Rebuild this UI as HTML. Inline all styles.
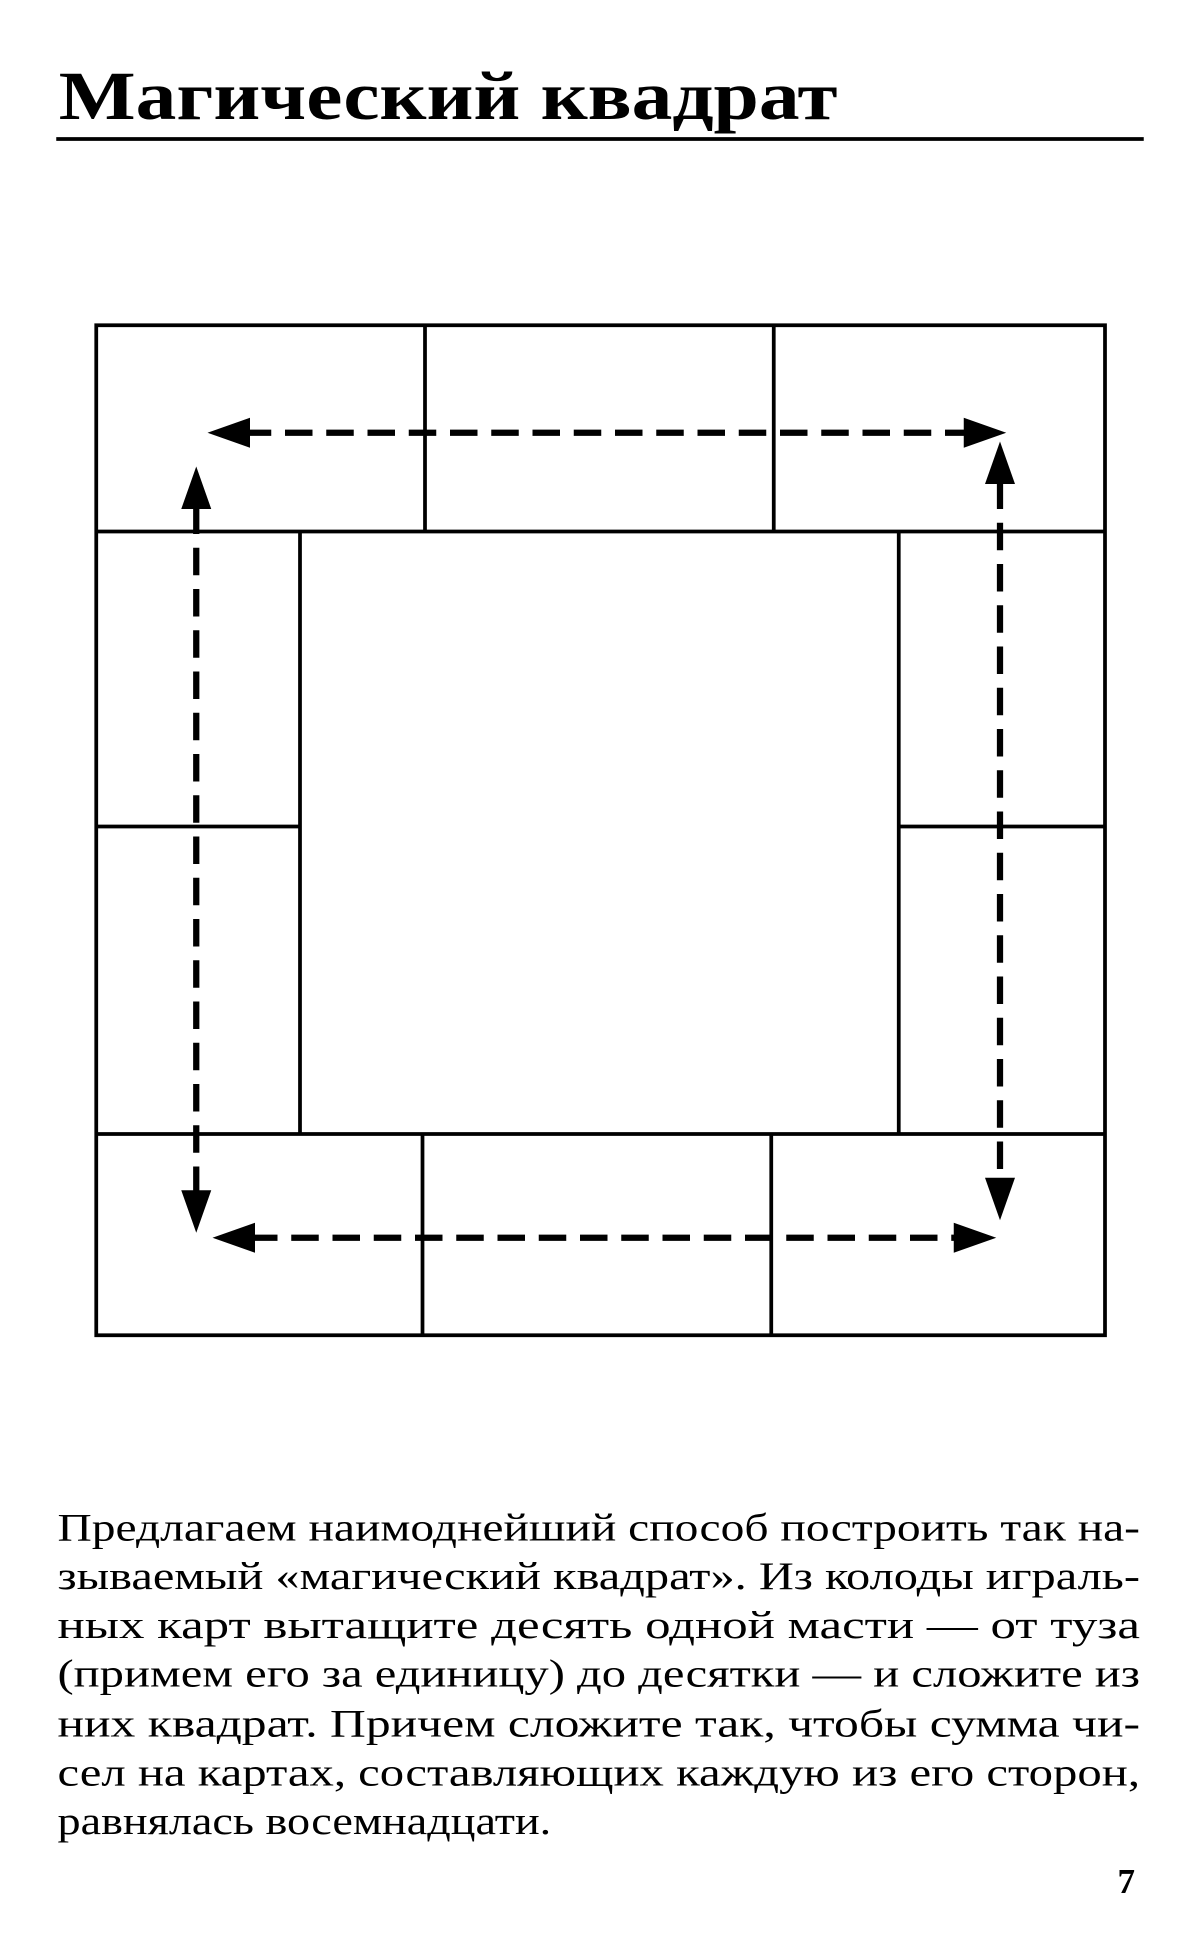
<!DOCTYPE html>
<html><head><meta charset="utf-8"><style>
html,body{margin:0;padding:0;background:#fff;}
svg{display:block;}
text{font-family:"Liberation Serif","DejaVu Serif",serif;fill:#000;}
</style></head><body>
<svg width="1200" height="1958" viewBox="0 0 960 1566" xmlns="http://www.w3.org/2000/svg">
<text x="47" y="95" font-size="55" font-weight="bold" textLength="623" lengthAdjust="spacingAndGlyphs">Магический квадрат</text>
<line x1="45" y1="111" x2="915" y2="111" stroke="#000" stroke-width="3"/>
<g stroke="#000" stroke-width="3" fill="none">
<rect x="77" y="260" width="807" height="808"/>
<line x1="77" y1="425" x2="884" y2="425"/>
<line x1="77" y1="907" x2="884" y2="907"/>
<line x1="340" y1="260" x2="340" y2="425"/>
<line x1="619" y1="260" x2="619" y2="425"/>
<line x1="338" y1="907" x2="338" y2="1068"/>
<line x1="617" y1="907" x2="617" y2="1068"/>
<line x1="240" y1="425" x2="240" y2="907"/>
<line x1="719" y1="425" x2="719" y2="907"/>
<line x1="77" y1="661" x2="240" y2="661"/>
<line x1="719" y1="661" x2="884" y2="661"/>
</g>
<g stroke="#000" stroke-width="5" stroke-dasharray="22 11" fill="none">
<line x1="195" y1="346" x2="775" y2="346"/>
<line x1="157" y1="405" x2="157" y2="958"/>
<line x1="800" y1="385" x2="800" y2="948"/>
<line x1="200" y1="990" x2="768" y2="990"/>
</g>
<g fill="#000">
<polygon points="166,346 200,334 200,358"/>
<polygon points="805,346 771,334 771,358"/>
<polygon points="157,373 145,407 169,407"/>
<polygon points="157,986 145,952 169,952"/>
<polygon points="800,353 788,387 812,387"/>
<polygon points="800,976 788,942 812,942"/>
<polygon points="170,990 204,978 204,1002"/>
<polygon points="797,990 763,978 763,1002"/>
</g>
<g font-size="31">
<text x="46" y="1232" textLength="866" lengthAdjust="spacingAndGlyphs">Предлагаем наимоднейший способ построить так на-</text>
<text x="46" y="1271" textLength="866" lengthAdjust="spacingAndGlyphs">зываемый «магический квадрат». Из колоды играль-</text>
<text x="46" y="1310" textLength="866" lengthAdjust="spacingAndGlyphs">ных карт вытащите десять одной масти — от туза</text>
<text x="46" y="1349" textLength="866" lengthAdjust="spacingAndGlyphs">(примем его за единицу) до десятки — и сложите из</text>
<text x="46" y="1389" textLength="866" lengthAdjust="spacingAndGlyphs">них квадрат. Причем сложите так, чтобы сумма чи-</text>
<text x="46" y="1428" textLength="866" lengthAdjust="spacingAndGlyphs">сел на картах, составляющих каждую из его сторон,</text>
<text x="46" y="1467" textLength="395" lengthAdjust="spacingAndGlyphs">равнялась восемнадцати.</text>
</g>
<text x="894" y="1514" font-size="28" font-weight="bold">7</text>
</svg>
</body></html>
